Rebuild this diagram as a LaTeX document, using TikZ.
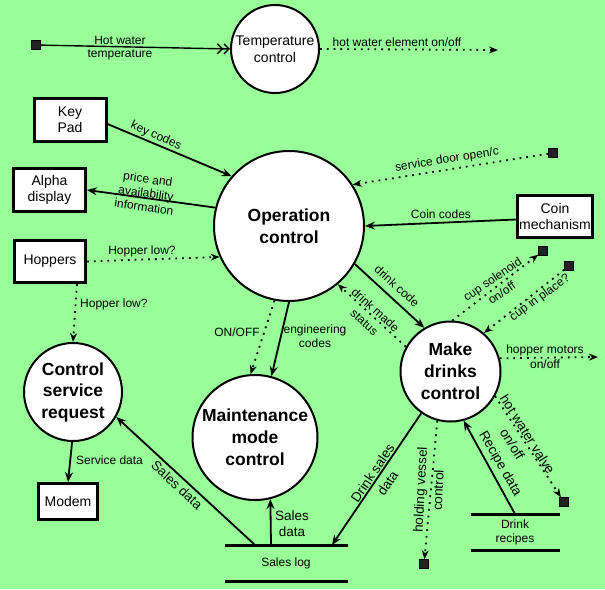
\documentclass[tikz,border=0pt]{standalone}
\usepackage{fontspec}
\setmainfont{Liberation Sans}
\usetikzlibrary{arrows.meta}
\definecolor{bg}{RGB}{153,255,153}
\definecolor{sqc}{RGB}{34,34,34}
\begin{document}
\begin{tikzpicture}[x=1pt,y=-1pt,
  proc/.style={circle,draw,line width=2pt,fill=white,inner sep=0pt,align=center,font=\bfseries\fontsize{17.5}{22}\selectfont},
  ext/.style={draw,line width=3pt,fill=white,align=center,inner sep=0pt,font=\fontsize{14}{16.5}\selectfont},
  term/.style={fill=sqc,draw=black,line width=0.6pt,minimum size=9pt,inner sep=0pt},
  flow/.style={line width=1.8pt,-{Stealth[length=10pt,width=8pt,inset=3.5pt]}},
  sig/.style={line width=1.8pt,dash pattern=on 1.8pt off 5pt,-{Stealth[length=9pt,width=7pt,inset=3pt]}},
  lbl/.style={font=\fontsize{12}{14}\selectfont,align=center,inner sep=0pt},
  lblb/.style={font=\fontsize{13.5}{16}\selectfont,align=center,inner sep=0pt},
  store/.style={line width=3pt},
]
\useasboundingbox (0,0) rectangle (605,589);
\fill[bg] (0,0) rectangle (605,589);

% processes
\node[proc,minimum size=150pt] (op) at (289,226) {Operation\\control};
\node[proc,minimum size=100pt] (md) at (450.5,371.5) {Make\\drinks\\control};
\node[proc,minimum size=98pt,font=\bfseries\fontsize{17.5}{21.5}\selectfont] (csr) at (73,392) {Control\\service\\request};
\node[proc,minimum size=125pt] (mm) at (255,437.5) {Maintenance\\mode\\control};
\node[proc,minimum size=88pt,font=\fontsize{14}{17}\selectfont] (tc) at (275,49) {Temperature\\control};

% external entities
\node[ext,minimum width=72pt,minimum height=43pt] (kp) at (70,120) {Key\\Pad};
\node[ext,minimum width=72pt,minimum height=43pt] (ad) at (49.5,190) {Alpha\\display};
\node[ext,minimum width=71pt,minimum height=42pt] (hop) at (50,261.5) {Hoppers};
\node[ext,minimum width=75pt,minimum height=42pt] (coin) at (555,216.5) {Coin\\mechanism};
\node[ext,minimum width=59pt,minimum height=36pt] (modem) at (68,501.5) {Modem};

% terminals
\node[term] (t1) at (36,45) {};
\node[term] (t2) at (553,153) {};
\node[term] (t3) at (543,251) {};
\node[term] (t4) at (569,266) {};
\node[term] (t5) at (564,502) {};
\node[term] (t6) at (424,564) {};
\coordinate (hwe) at (498,50);
\coordinate (hm) at (598,357);

% stores
\coordinate (slA) at (225,545); \coordinate (slB) at (348,545);
\coordinate (slC) at (225,581); \coordinate (slD) at (348,581);
\draw[store] (slA) -- (slB);
\draw[store] (slC) -- (slD);
\node[lbl] (sllbl) at (286,563) {Sales log};
\coordinate (drA) at (471,514); \coordinate (drB) at (560,514);
\coordinate (drC) at (471,550); \coordinate (drD) at (560,550);
\draw[store] (drA) -- (drB);
\draw[store] (drC) -- (drD);
\node[lbl,font=\fontsize{12}{14}\selectfont] (drlbl) at (515,532) {Drink\\recipes};
\coordinate (sl1) at (271,545);
\coordinate (sl2) at (255,545);
\coordinate (sl3) at (332,545);
\coordinate (dr1) at (515,514);

% flows
\draw[line width=1.4pt,-{Straight Barb[length=5pt,width=10pt]Straight Barb[length=5pt,width=10pt]}] (t1) -- (tc.180);
\draw[sig] (tc.0) -- (hwe);
\draw[flow] ([yshift=-4pt]kp.east) -- (op.139);
\draw[flow] (op.166) -- (ad.east);
\draw[sig] (hop.east) -- (op.204);
\draw[sig] (t2) -- (op.33);
\draw[flow] ([yshift=-3pt]coin.west) -- (op.0);
\draw[flow] (op.-30) -- (md.121.5);
\draw[sig] (md.151.5) -- (op.-50.4);
\draw[sig] (md.88) -- (t3);
\draw[sig] (t4) -- (md.49);
\draw[sig] (md.15) -- (hm);
\draw[sig] (md.-29) -- (t5);
\draw[flow] (dr1) -- (md.-75);
\draw[sig] (md.-105) -- (t6);
\draw[flow] (md.-125) -- (sl3);
\draw[flow] (sl1) -- (mm.-76);
\draw[flow] (sl2) -- (csr.-30);
\draw[sig] ([xshift=27pt]hop.south) -- (csr.north);
\draw[flow] (csr.-91) -- (modem.north);
\draw[sig] (op.-101) -- (mm.94);
\draw[flow] (op.-90) -- (mm.75.5);

% labels
\node[lbl,font=\fontsize{12}{13.5}\selectfont] (l1) at (120,48) {Hot water\\temperature};
\node[lbl] (l2) at (397,42) {hot water element on/off};
\node[lbl,rotate=-24] (l3) at (156,136) {key codes};
\node[lbl,rotate=-8,font=\fontsize{12}{14}\selectfont] (l4) at (146,193) {price and\\availability\\information};
\node[lbl] (l5) at (142,251) {Hopper low?};
\node[lbl,rotate=9] (l6) at (447,160) {service door open/c};
\node[lbl] (l7) at (441,214) {Coin codes};
\node[lbl,rotate=-42] (l8) at (397,286) {drink code};
\node[lbl,rotate=-42,font=\fontsize{12}{16.5}\selectfont] (l9) at (370,316) {drink made\\status};
\node[lbl,rotate=34,font=\fontsize{12}{16.5}\selectfont] (l10) at (497,286) {cup solenoid\\on/off};
\node[lbl,rotate=36] (l11) at (540,298) {cup in place?};
\node[lbl,font=\fontsize{12}{15}\selectfont] (l12) at (545,357) {hopper motors\\on/off};
\node[lblb,rotate=-58,font=\fontsize{13.5}{18}\selectfont] (l13) at (520,439) {hot water valve\\on/off};
\node[lblb,rotate=-60] (l14) at (500,464) {Recipe data};
\node[lblb,rotate=87,font=\fontsize{13.5}{18}\selectfont] (l15) at (429,490) {holding vessel\\control};
\node[lblb,rotate=56,font=\fontsize{13.5}{18}\selectfont] (l16) at (380,478) {Drink sales\\data};
\node[lblb,rotate=-43] (l17) at (177,485) {Sales data};
\node[lblb,font=\fontsize{13.5}{16}\selectfont] (l18) at (292,524) {Sales\\data};
\node[lbl,font=\fontsize{12}{14}\selectfont] (l19) at (315,336) {engineering\\codes};
\node[lbl] (l20) at (237,332) {ON/OFF};
\node[lbl,anchor=west] (l21) at (80,304) {Hopper low?};
\node[lbl,anchor=west] (l22) at (76,460) {Service data};
\end{tikzpicture}
\end{document}
